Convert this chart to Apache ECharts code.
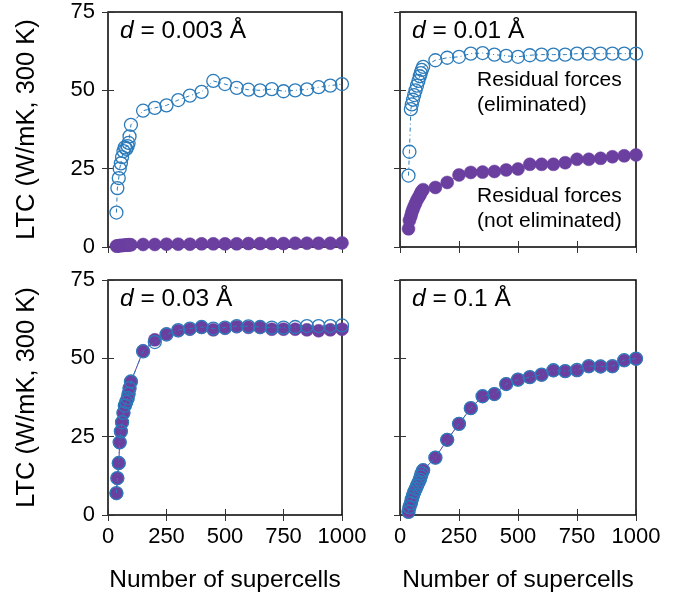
<!DOCTYPE html>
<html><head><meta charset="utf-8">
<script src="https://cdn.jsdelivr.net/npm/echarts@6/dist/echarts.min.js"></script>
<style>html,body{margin:0;padding:0;background:#fff}#c{width:696px;height:595px}</style>
</head><body><div id="c"></div>
<script>
// x values (number of supercells)
const xVals = [36, 40, 46, 50, 55, 60, 66, 72, 78, 84, 88, 92, 98,
  150, 200, 250, 300, 350, 400, 450, 500, 550, 600, 650, 700, 750, 800, 850, 900, 950, 1000];

// d = 0.003
const p1Elim = [11.0, 18.8, 22.0, 25.0, 26.7, 28.7, 30.6, 31.8, 31.3, 32.2, 33.2, 35.3, 39.0,
  43.5, 44.4, 45.2, 46.9, 48.3, 49.5, 53.0, 52.0, 50.8, 50.2, 50.0, 50.4, 49.7, 50.0, 50.3, 51.0, 51.5, 52.0];
const p1NotElim = [0.3, 0.3, 0.4, 0.4, 0.5, 0.5, 0.5, 0.6, 0.6, 0.6, 0.7, 0.7, 0.7,
  0.8, 0.8, 0.9, 0.9, 0.9, 1.0, 1.0, 1.0, 1.0, 1.1, 1.1, 1.1, 1.1, 1.2, 1.2, 1.2, 1.2, 1.3];
// d = 0.01
const p2Elim = [22.8, 30.4, 44.0, 45.5, 47.0, 48.5, 50.0, 51.5, 53.0, 54.5, 55.5, 56.5, 57.5,
  59.6, 60.4, 60.7, 61.7, 61.9, 61.4, 61.0, 60.7, 61.2, 61.4, 61.4, 61.4, 61.7, 61.7, 61.7, 61.7, 61.7, 61.7];
const p2NotElim = [5.8, 8.5, 9.8, 11.0, 12.0, 13.0, 14.0, 15.0, 15.8, 16.5, 17.2, 17.8, 18.3,
  19.0, 20.6, 23.0, 23.8, 23.9, 24.1, 24.6, 24.9, 26.4, 26.4, 26.4, 26.9, 28.0, 28.0, 28.3, 28.8, 29.1, 29.4];
// d = 0.03
const p3Elim = [7.0, 11.8, 16.6, 23.2, 26.7, 29.6, 32.6, 34.9, 36.1, 37.3, 38.7, 40.5, 42.6,
  52.2, 55.2, 57.6, 59.0, 59.5, 60.0, 59.5, 59.8, 60.3, 60.2, 60.0, 59.8, 59.8, 60.0, 60.3, 60.3, 60.3, 60.5];
const p3NotElim = [6.9, 11.7, 16.5, 23.1, 26.6, 29.5, 32.5, 34.8, 36.0, 37.2, 38.6, 40.4, 42.5,
  52.4, 55.9, 57.8, 58.8, 59.3, 59.9, 59.1, 59.6, 60.1, 59.9, 59.9, 59.3, 59.3, 59.3, 59.1, 58.8, 59.1, 59.3];
// d = 0.1
const p4Elim = [1.0, 2.5, 3.8, 5.0, 6.2, 7.3, 8.3, 9.3, 10.3, 11.3, 12.3, 13.3, 14.3,
  18.3, 24.0, 29.1, 34.1, 37.9, 38.6, 41.8, 43.2, 44.0, 44.8, 46.2, 45.9, 46.3, 47.5, 47.4, 47.5, 49.4, 49.9];
const p4NotElim = [1.0, 2.5, 3.8, 5.0, 6.2, 7.3, 8.3, 9.3, 10.3, 11.3, 12.3, 13.3, 14.3,
  18.3, 24.0, 29.1, 34.1, 37.9, 38.6, 41.8, 43.2, 44.0, 44.7, 46.1, 45.9, 46.1, 47.4, 47.4, 47.4, 49.3, 49.8];

const panelLabels = ['0.003 Å', '0.01 Å', '0.03 Å', '0.1 Å'];
const xTicks = [0, 250, 500, 750, 1000];
const yTicks = [0, 25, 50, 75];
const yTitle = 'LTC (W/mK, 300 K)';
const xTitle = 'Number of supercells';
const annotElim = ['Residual forces', '(eliminated)'];
const annotNot = ['Residual forces', '(not eliminated)'];

const BLUE = '#2b7bba', PURPLE = '#6b3fa0';
const FONT = 'Liberation Sans';
const grids = [
  {left: 108, top: 12, width: 234, height: 235},
  {left: 400, top: 12, width: 236, height: 235},
  {left: 108, top: 280, width: 234, height: 235},
  {left: 400, top: 280, width: 236, height: 235}
].map(g => Object.assign({show: true, borderColor: '#000', borderWidth: 1.5, backgroundColor: 'transparent'}, g));

const xAxis = [], yAxis = [];
for (let i = 0; i < 4; i++) {
  const bottomRow = i >= 2, leftCol = i % 2 === 0;
  const base = {type: 'value', gridIndex: i, min: xTicks[0], max: xTicks[xTicks.length - 1], interval: 250,
    splitLine: {show: false}, axisLine: {show: false},
    axisTick: {show: true, inside: true, length: 6, lineStyle: {color: '#333', width: 1}}};
  xAxis.push(Object.assign({}, base, {position: 'bottom',
    axisLabel: {show: bottomRow, color: '#000', fontSize: 22, fontFamily: FONT, margin: 11,
      formatter: v => String(v)},
    name: bottomRow ? xTitle : '', nameLocation: 'middle', nameGap: 53,
    nameTextStyle: {color: '#000', fontSize: 24.5, fontFamily: FONT}}));
  xAxis.push(Object.assign({}, base, {position: 'top', axisLabel: {show: false}}));
  const ybase = {type: 'value', gridIndex: i, min: yTicks[0], max: yTicks[yTicks.length - 1], interval: 25,
    splitLine: {show: false}, axisLine: {show: false},
    axisTick: {show: true, inside: true, length: 6, lineStyle: {color: '#333', width: 1}}};
  yAxis.push(Object.assign({}, ybase, {position: 'left',
    axisLabel: {show: leftCol, color: '#000', fontSize: 22, fontFamily: FONT, margin: 13},
    name: leftCol ? yTitle : '', nameLocation: 'middle', nameGap: 68, nameRotate: 90,
    nameTextStyle: {color: '#000', fontSize: 25.5, fontFamily: FONT}}));
  yAxis.push(Object.assign({}, ybase, {position: 'right', axisLabel: {show: false}}));
}

const pairs = arr => arr.map((v, k) => [xVals[k], v]);
const panels = [[p1Elim, p1NotElim], [p2Elim, p2NotElim], [p3Elim, p3NotElim], [p4Elim, p4NotElim]];
const series = [];
panels.forEach((p, i) => {
  series.push({type: 'line', xAxisIndex: 2 * i, yAxisIndex: 2 * i, data: pairs(p[1]), clip: false,
    symbol: 'circle', symbolSize: 13, z: 2,
    itemStyle: {color: PURPLE, borderColor: PURPLE, borderWidth: 0.5},
    lineStyle: {color: PURPLE, width: 1}});
  series.push({type: 'line', xAxisIndex: 2 * i, yAxisIndex: 2 * i, data: pairs(p[0]), clip: false,
    symbol: 'circle', symbolSize: 13, z: 3,
    itemStyle: {color: 'rgba(255,255,255,0)', borderColor: BLUE, borderWidth: 1.3},
    lineStyle: {color: BLUE, width: 1, type: [4, 3, 1, 3]}});
});

const labelPos = [[120, 19], [412, 19], [120, 287], [412, 287]];
const graphic = panelLabels.map((t, i) => ({type: 'text', left: labelPos[i][0], top: labelPos[i][1], z: 10,
  style: {text: '{i|d} = ' + t, fontSize: 24.5, fontFamily: FONT, fill: '#000',
    rich: {i: {fontStyle: 'italic', fontSize: 24.5, fontFamily: FONT, fill: '#000'}}}}));
graphic.push({type: 'text', left: 477, top: 68, z: 10,
  style: {text: annotElim.join('\n'), fontSize: 21, lineHeight: 25, fontFamily: FONT, fill: '#000'}});
graphic.push({type: 'text', left: 477, top: 184, z: 10,
  style: {text: annotNot.join('\n'), fontSize: 21, lineHeight: 25, fontFamily: FONT, fill: '#000'}});

const chart = echarts.init(document.getElementById('c'), null, {renderer: 'canvas'});
chart.setOption({animation: false, backgroundColor: '#fff', grid: grids, xAxis, yAxis, series, graphic});
</script></body></html>
